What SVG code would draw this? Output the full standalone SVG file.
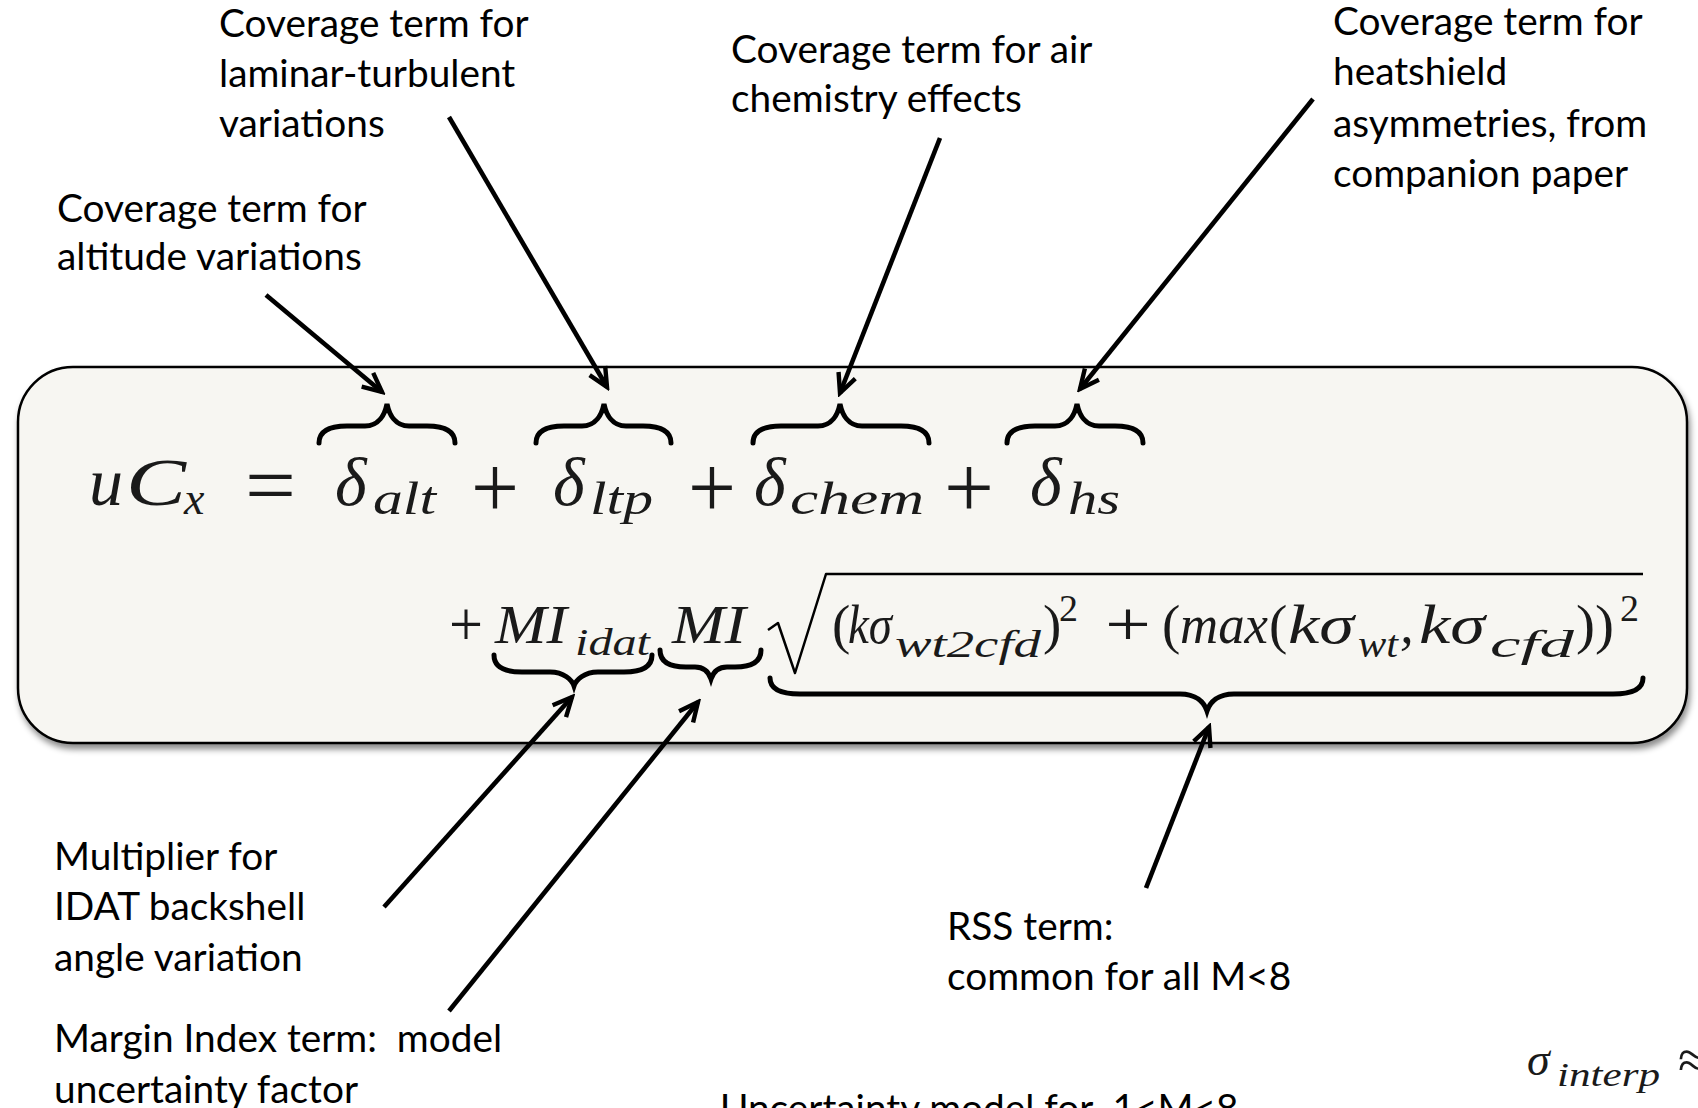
<svg xmlns="http://www.w3.org/2000/svg" width="1698" height="1108" viewBox="0 0 1698 1108">
<style>
.lbl{font-family:Lato,"Open Sans","Liberation Sans",sans-serif;font-size:38.8px;fill:#000}
.m{font-family:"Liberation Serif","DejaVu Serif",serif;font-style:italic;fill:#1a1a1a}
.r{font-style:normal}
.arrow{stroke:#000;stroke-width:4.6;fill:none;marker-end:url(#ah)}
.brace{stroke:#000;stroke-width:5;fill:none;stroke-linecap:round}
</style>
<defs>
<marker id="ah" markerUnits="userSpaceOnUse" markerWidth="26" markerHeight="26" viewBox="0 0 26 26" refX="22" refY="13" orient="auto">
<path d="M3,4 L22,13 L3,22" fill="none" stroke="#000" stroke-width="4.4"/>
</marker>
<filter id="sh" x="-5%" y="-5%" width="110%" height="115%">
<feDropShadow dx="2" dy="5" stdDeviation="3" flood-color="#000" flood-opacity="0.45"/>
</filter>
</defs>
<rect width="1698" height="1108" fill="#fff"/>

<g id="equation-box">
<rect x="18" y="367" width="1669" height="376" rx="55" ry="55" fill="#f7f6f2" stroke="#000" stroke-width="2.5" filter="url(#sh)"/>
<!-- line 1 -->
<text class="m" x="89" y="505" font-size="68">u</text>
<text class="m" x="126" y="505" font-size="68" textLength="60" lengthAdjust="spacingAndGlyphs">C</text>
<text class="m" x="184" y="514" font-size="46">x</text>
<text class="m r" x="245" y="514" font-size="84" textLength="51" lengthAdjust="spacingAndGlyphs">=</text>
<text class="m" x="335" y="505" font-size="68">δ</text>
<text class="m" x="373" y="514" font-size="46" textLength="63" lengthAdjust="spacingAndGlyphs">alt</text>
<text class="m r" x="471" y="517" font-size="88" textLength="48" lengthAdjust="spacingAndGlyphs">+</text>
<text class="m" x="553" y="505" font-size="68">δ</text>
<text class="m" x="590" y="514" font-size="46" textLength="63" lengthAdjust="spacingAndGlyphs">ltp</text>
<text class="m r" x="688" y="517" font-size="88" textLength="48" lengthAdjust="spacingAndGlyphs">+</text>
<text class="m" x="754" y="505" font-size="68">δ</text>
<text class="m" x="790" y="514" font-size="46" textLength="134" lengthAdjust="spacingAndGlyphs">chem</text>
<text class="m r" x="944" y="517" font-size="88" textLength="50" lengthAdjust="spacingAndGlyphs">+</text>
<text class="m" x="1030" y="505" font-size="68">δ</text>
<text class="m" x="1068" y="514" font-size="46" textLength="52" lengthAdjust="spacingAndGlyphs">hs</text>
<!-- overbraces -->
<path class="brace" d="M319,443 C319,430 331,426 347,426 L365,426 C379,426 385,414 387,404 C389,414 395,426 409,426 L427,426 C443,426 455,430 455,443"/>
<path class="brace" d="M536,443 C536,430 548,426 564,426 L582,426 C596,426 602,414 604,404 C606,414 612,426 626,426 L643,426 C659,426 671,430 671,443"/>
<path class="brace" d="M753,443 C753,430 765,426 781,426 L818,426 C832,426 838,414 840,404 C842,414 848,426 862,426 L901,426 C917,426 929,430 929,443"/>
<path class="brace" d="M1007,443 C1007,430 1019,426 1035,426 L1055,426 C1069,426 1075,414 1077,404 C1079,414 1085,426 1099,426 L1115,426 C1131,426 1143,430 1143,443"/>
<!-- line 2 -->
<text class="m r" x="449" y="646" font-size="64" textLength="34" lengthAdjust="spacingAndGlyphs">+</text>
<text class="m" x="495" y="643" font-size="55" textLength="72" lengthAdjust="spacingAndGlyphs">MI</text>
<text class="m" x="575" y="655" font-size="38" textLength="75" lengthAdjust="spacingAndGlyphs">idat</text>
<text class="m" x="672" y="643" font-size="55" textLength="74" lengthAdjust="spacingAndGlyphs">MI</text>
<path d="M768,630 L778,623 L795,673 L826,574 L1643,574" fill="none" stroke="#000" stroke-width="2.5" stroke-linejoin="round"/>
<text class="m r" x="832" y="643" font-size="55">(</text>
<text class="m" x="848" y="643" font-size="55" textLength="44" lengthAdjust="spacingAndGlyphs">kσ</text>
<text class="m" x="895" y="657" font-size="38" textLength="146" lengthAdjust="spacingAndGlyphs">wt2cfd</text>
<text class="m r" x="1043" y="643" font-size="55">)</text>
<text class="m r" x="1059" y="621" font-size="38">2</text>
<text class="m r" x="1105" y="646" font-size="64" textLength="46" lengthAdjust="spacingAndGlyphs">+</text>
<text class="m r" x="1162" y="643" font-size="55">(</text>
<text class="m" x="1180" y="643" font-size="55" textLength="88" lengthAdjust="spacingAndGlyphs">max</text>
<text class="m r" x="1269" y="643" font-size="55">(</text>
<text class="m" x="1288" y="643" font-size="55" textLength="66" lengthAdjust="spacingAndGlyphs">kσ</text>
<text class="m" x="1358" y="657" font-size="38" textLength="40" lengthAdjust="spacingAndGlyphs">wt</text>
<text class="m" x="1400" y="643" font-size="55">,</text>
<text class="m" x="1419" y="643" font-size="55" textLength="66" lengthAdjust="spacingAndGlyphs">kσ</text>
<text class="m" x="1490" y="657" font-size="38" textLength="84" lengthAdjust="spacingAndGlyphs">cfd</text>
<text class="m r" x="1576" y="643" font-size="55" textLength="38" lengthAdjust="spacingAndGlyphs">))</text>
<text class="m r" x="1620" y="621" font-size="38">2</text>
<!-- underbraces -->
<path class="brace" d="M494,655 C494,668 506,672 522,672 L550,672 C564,672 572,680 574,686 C576,680 584,672 598,672 L624,672 C640,672 652,668 652,655"/>
<path class="brace" d="M660,650 C660,663 672,667 686,667 L695,667 C705,667 709,673 711,679 C713,673 717,667 727,667 L735,667 C750,667 761,663 761,650"/>
<path class="brace" d="M770,678 C770,690 782,694 800,694 L1180,694 C1196,694 1204,702 1207,711 C1210,702 1218,694 1234,694 L1613,694 C1631,694 1643,690 1643,678"/>
</g>

<g id="connectors">
<line class="arrow" x1="266" y1="295" x2="382" y2="392"/>
<line class="arrow" x1="449" y1="117" x2="607" y2="387"/>
<line class="arrow" x1="940" y1="138" x2="840" y2="393"/>
<line class="arrow" x1="1313" y1="99" x2="1080" y2="389"/>
<line class="arrow" x1="384" y1="907" x2="572" y2="697"/>
<line class="arrow" x1="449" y1="1011" x2="698" y2="702"/>
<line class="arrow" x1="1146" y1="888" x2="1209" y2="727"/>
</g>

<g id="label-ltp">
<text class="lbl" x="219" y="37">Coverage term for</text>
<text class="lbl" x="219" y="87">laminar-turbulent</text>
<text class="lbl" x="219" y="137">variations</text>
</g>
<g id="label-chem">
<text class="lbl" x="731" y="63">Coverage term for air</text>
<text class="lbl" x="731" y="112">chemistry effects</text>
</g>
<g id="label-hs">
<text class="lbl" x="1333" y="35">Coverage term for</text>
<text class="lbl" x="1333" y="85">heatshield</text>
<text class="lbl" x="1333" y="137">asymmetries, from</text>
<text class="lbl" x="1333" y="187">companion paper</text>
</g>
<g id="label-alt">
<text class="lbl" x="57" y="222">Coverage term for</text>
<text class="lbl" x="57" y="270">altitude variations</text>
</g>
<g id="label-idat">
<text class="lbl" x="54" y="870">Multiplier for</text>
<text class="lbl" x="54" y="920">IDAT backshell</text>
<text class="lbl" x="54" y="971">angle variation</text>
</g>
<g id="label-mi">
<text class="lbl" x="54" y="1052" xml:space="preserve">Margin Index term:  model</text>
<text class="lbl" x="54" y="1103">uncertainty factor</text>
</g>
<g id="label-rss">
<text class="lbl" x="947" y="940">RSS term:</text>
<text class="lbl" x="947" y="990">common for all M&lt;8</text>
</g>
<g id="caption">
<text class="lbl" x="720" y="1122" xml:space="preserve">Uncertainty model for  1&lt;M&lt;8</text>
</g>
<g id="sigma-interp">
<text class="m" x="1527" y="1075" font-size="46">σ</text>
<text class="m" x="1557" y="1086" font-size="34" textLength="103" lengthAdjust="spacingAndGlyphs">interp</text>
<text class="m r" x="1678" y="1078" font-size="54">≈</text>
</g>
</svg>
